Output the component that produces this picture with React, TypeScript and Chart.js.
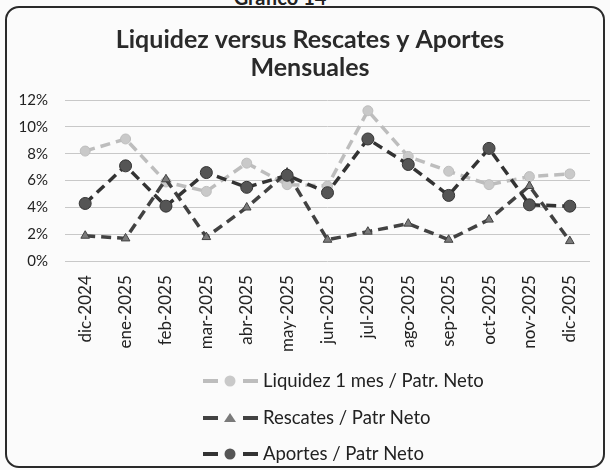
import React, { useEffect, useRef } from "react";
import { Chart, registerables } from "chart.js";

Chart.register(...registerables);

const categories = [
  "dic-2024", "ene-2025", "feb-2025", "mar-2025", "abr-2025", "may-2025", "jun-2025",
  "jul-2025", "ago-2025", "sep-2025", "oct-2025", "nov-2025", "dic-2025",
];
const liquidez = [8.2, 9.1, 5.9, 5.2, 7.3, 5.7, 5.6, 11.2, 7.8, 6.7, 5.7, 6.3, 6.5];
const rescates = [1.9, 1.7, 6.1, 1.8, 4.0, 6.6, 1.6, 2.2, 2.8, 1.6, 3.1, 5.6, 1.5];
const aportes = [4.3, 7.1, 4.1, 6.6, 5.5, 6.4, 5.1, 9.1, 7.2, 4.9, 8.4, 4.2, 4.1];
const seriesNames = ["Liquidez 1 mes / Patr. Neto", "Rescates / Patr Neto", "Aportes / Patr Neto"];
const titleLines = ["Liquidez versus Rescates y Aportes", "Mensuales"];
const yMax = 12;
const yStep = 2;

const FONT = "Lato, 'Noto Sans', sans-serif";

const styles = [
  { line: "#bdbdbd", fill: "#c9c9c9", point: "circle" },
  { line: "#424242", fill: "#7a7a7a", point: "triangle" },
  { line: "#333333", fill: "#555555", point: "circle" },
];

const decoPlugin = {
  id: "deco",
  afterDraw(chart: any) {
    const ctx = chart.ctx;
    ctx.save();
    ctx.fillStyle = "#2a2a2a";
    ctx.font = `bold 25px ${FONT}`;
    ctx.textAlign = "center";
    ctx.textBaseline = "middle";
    ctx.fillText(titleLines[0], 310, 40);
    ctx.fillText(titleLines[1], 310, 68);
    const ys = [381, 418, 454];
    seriesNames.forEach((name, i) => {
      const y = ys[i];
      const s = styles[i];
      ctx.strokeStyle = s.line;
      ctx.lineWidth = 4;
      ctx.setLineDash([]);
      ctx.beginPath();
      ctx.moveTo(203, y);
      ctx.lineTo(218, y);
      ctx.moveTo(243, y);
      ctx.lineTo(258, y);
      ctx.stroke();
      ctx.fillStyle = s.fill;
      ctx.beginPath();
      if (s.point === "circle") {
        ctx.arc(230, y, 5.5, 0, Math.PI * 2);
      } else {
        ctx.moveTo(230, y - 5);
        ctx.lineTo(236, y + 4);
        ctx.lineTo(224, y + 4);
        ctx.closePath();
      }
      ctx.fill();
      ctx.fillStyle = "#222";
      ctx.font = `18.5px ${FONT}`;
      ctx.textAlign = "left";
      ctx.textBaseline = "middle";
      ctx.fillText(name, 263, y);
    });
    ctx.restore();
  },
};

export default function App() {
  const ref = useRef<HTMLCanvasElement>(null);
  useEffect(() => {
    if (!ref.current) return;
    const mk = (i: number, data: number[]) => ({
      label: seriesNames[i],
      data,
      borderColor: styles[i].line,
      backgroundColor: styles[i].fill,
      pointBackgroundColor: styles[i].fill,
      pointBorderColor: styles[i].line,
      pointBorderWidth: 1,
      pointStyle: styles[i].point,
      pointRadius: i === 2 ? 6 : 5,
      borderWidth: 3.5,
      borderDash: [10, 6],
      tension: 0,
      fill: false,
    });
    const chart = new Chart(ref.current, {
      type: "line",
      data: {
        labels: categories,
        datasets: [mk(2, aportes), mk(1, rescates), mk(0, liquidez)],
      },
      options: {
        animation: false,
        responsive: false,
        layout: { padding: { top: 100, left: 18, right: 20, bottom: 112 } },
        plugins: { legend: { display: false }, title: { display: false }, tooltip: { enabled: false } },
        scales: {
          x: {
            offset: true,
            grid: { display: false },
            border: { display: false },
            ticks: {
              color: "#222",
              font: { family: FONT, size: 17 },
              minRotation: 90,
              maxRotation: 90,
              autoSkip: false,
              padding: 6,
            },
          },
          y: {
            min: 0,
            max: yMax,
            grid: { color: "#c8c8c8", lineWidth: 1, drawTicks: false },
            border: { display: false },
            afterFit: (s: any) => {
              s.width = 47;
            },
            ticks: {
              stepSize: yStep,
              color: "#222",
              font: { family: FONT, size: 15 },
              padding: 17,
              callback: (v: any) => `${v}%`,
            },
          },
        },
      },
      plugins: [decoPlugin],
    });
    return () => chart.destroy();
  }, []);
  return (
    <div style={{ position: "absolute", left: 0, top: 0, width: 610, height: 470, background: "#fbfbfb", overflow: "hidden" }}>
      <div style={{ position: "absolute", left: 0, right: 0, top: -15, textAlign: "center", font: `bold 20px ${FONT}`, color: "#222", paddingRight: 50 }}>
        Gráfico 14
      </div>
      <div style={{ position: "absolute", left: 5, top: 6, width: 596, height: 458, border: "2px solid #2a2a2a", borderRadius: 14 }} />
      <canvas ref={ref} width={610} height={470} style={{ position: "absolute", left: 0, top: 0 }} />
    </div>
  );
}
